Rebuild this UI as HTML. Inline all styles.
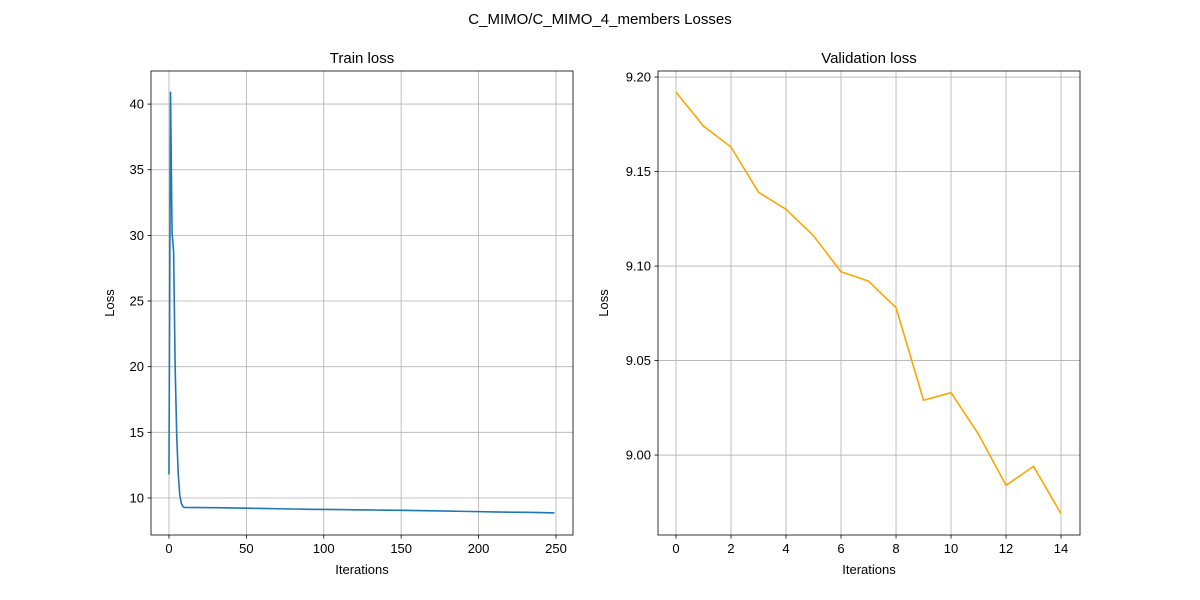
<!DOCTYPE html>
<html><head><meta charset="utf-8">
<style>
body{margin:0;background:#fff;}
svg{display:block;font-family:"Liberation Sans","DejaVu Sans",sans-serif;}
</style></head>
<body>
<svg id="fig" width="1200" height="600" xmlns="http://www.w3.org/2000/svg">
<rect width="1200" height="600" fill="#fff"/>
<text x="600" y="24" text-anchor="middle" font-size="15">C_MIMO/C_MIMO_4_members Losses</text>
<g id="left"></g>
<g id="right"></g>
</svg>
<script>
const trainIters = [0,1,2,3,4,5,6,7,8,9,10,20,30,40,50,60,70,80,90,100,110,120,130,140,150,160,170,180,190,200,210,220,230,240,249];
const trainLoss = [11.8,40.9,30.2,28.8,20.0,14.8,11.8,10.2,9.6,9.35,9.28,9.27,9.26,9.24,9.22,9.2,9.18,9.16,9.14,9.13,9.12,9.1,9.09,9.07,9.06,9.04,9.02,9.0,8.98,8.96,8.94,8.92,8.91,8.89,8.86];
const trainXTicks = [0,50,100,150,200,250];
const trainYTicks = [10,15,20,25,30,35,40];
const valEpochs = [0,1,2,3,4,5,6,7,8,9,10,11,12,13,14];
const valLoss = [9.192,9.174,9.163,9.139,9.130,9.116,9.097,9.092,9.078,9.029,9.033,9.011,8.984,8.994,8.969];
const valXTicks = [0,2,4,6,8,10,12,14];
const valYTicks = [9.00,9.05,9.10,9.15,9.20];
const valYLabels = ["9.00","9.05","9.10","9.15","9.20"];

const NS="http://www.w3.org/2000/svg";
function mk(parent,tag,attrs){const e=document.createElementNS(NS,tag);for(const k in attrs)e.setAttribute(k,attrs[k]);parent.appendChild(e);return e;}

function panel(g,o){
  const {L,R,T,B,xmin,xmax,ymin,ymax}=o;
  const sx=v=>L+(v-xmin)/(xmax-xmin)*(R-L);
  const sy=v=>B-(v-ymin)/(ymax-ymin)*(B-T);
  const grid=mk(g,'g',{});
  
  
  o.xt.forEach((t,i)=>{
    const x=sx(t);
    mk(grid,'line',{x1:x,x2:x,y1:T,y2:B,stroke:'#b0b0b0','stroke-width':0.8});
    mk(g,'line',{x1:x,x2:x,y1:B,y2:B+3.5,stroke:'#000','stroke-width':0.8});
    const tx=mk(g,'text',{x:x,y:B+18,'text-anchor':'middle','font-size':13});
    tx.textContent=o.xl?o.xl[i]:String(t);
    
    
  });
  o.yt.forEach((t,i)=>{
    const y=sy(t);
    mk(grid,'line',{x1:L,x2:R,y1:y,y2:y,stroke:'#b0b0b0','stroke-width':0.8});
    mk(g,'line',{x1:L-3.5,x2:L,y1:y,y2:y,stroke:'#000','stroke-width':0.8});
    const tx=mk(g,'text',{x:L-7,y:y+4.5,'text-anchor':'end','font-size':13});
    tx.textContent=o.yl?o.yl[i]:String(t);
    
    
  });
  const pts=o.xs.map((x,i)=>sx(x).toFixed(2)+','+sy(o.ys[i]).toFixed(2)).join(' ');
  const line=mk(g,'polyline',{points:pts,fill:'none',stroke:o.color,'stroke-width':1.6,'stroke-linejoin':'round'});
  
  
  const fr=mk(g,'rect',{x:L,y:T,width:R-L,height:B-T,fill:'none',stroke:'#000','stroke-width':0.8});
  
  
  const ti=mk(g,'text',{x:(L+R)/2,y:T-8,'text-anchor':'middle','font-size':15});
  ti.textContent=o.title;
  
  
  const xl=mk(g,'text',{x:(L+R)/2,y:B+39,'text-anchor':'middle','font-size':13});
  xl.textContent='Iterations';
  
  
  const yx=o.ylx, yy=(T+B)/2;
  const yl=mk(g,'text',{x:yx,y:yy,'text-anchor':'middle','font-size':13,transform:`rotate(-90 ${yx} ${yy})`});
  yl.textContent='Loss';
  
  
}
panel(document.getElementById('left'),{L:151,R:573,T:71,B:535,xmin:-11.6,xmax:261,ymin:7.18,ymax:42.52,
  xt:trainXTicks,yt:trainYTicks,xs:trainIters,ys:trainLoss,color:'#1f77b4',title:'Train loss',lineName:'train-loss-line',ylx:114});
panel(document.getElementById('right'),{L:658,R:1080,T:71,B:535,xmin:-0.655,xmax:14.69,ymin:8.9577,ymax:9.2032,
  xt:valXTicks,yt:valYTicks,yl:valYLabels,xs:valEpochs,ys:valLoss,color:'#ffa500',title:'Validation loss',lineName:'validation-loss-line',ylx:608});
</script>
</body></html>
